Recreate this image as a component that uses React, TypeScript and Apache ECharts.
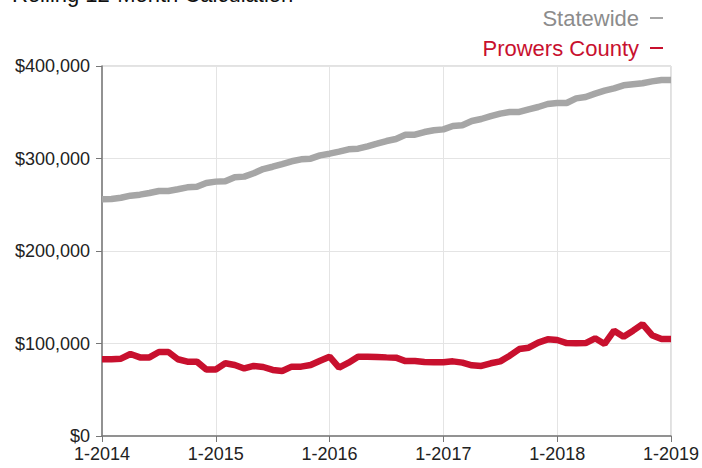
import React, { useEffect, useRef } from "react";
import * as echarts from "echarts";

const years = [2014, 2015, 2016, 2017, 2018];
const months = [1, 2, 3, 4, 5, 6, 7, 8, 9, 10, 11, 12];
const categories: string[] = [];
years.forEach((y) => months.forEach((m) => categories.push(`${m}-${y}`)));
categories.push("1-2019");

const statewide = [
  255900, 256200, 257600, 259800, 260900, 262700, 264900, 264900, 266700, 268800, 269500, 273500,
  275000, 275300, 279700, 280400, 284000, 288600, 291100, 294000, 297000, 299100, 299800, 303400,
  305200, 307400, 309900, 310600, 313200, 316000, 318900, 321100, 325700, 325700, 328600, 330500,
  331500, 335100, 335900, 340500, 342700, 345900, 348500, 350300, 350300, 353200, 355700, 358900,
  360000, 360000, 365000, 366500, 370100, 373300, 375900, 379100, 380200, 381300, 383400, 384900,
  384900,
];

const prowers = [
  83000, 83000, 83600, 88600, 85000, 85000, 90800, 90800, 83000, 80400, 80400, 72000,
  72000, 78600, 76800, 73000, 75700, 74600, 71400, 70300, 75000, 75000, 76800, 81400,
  85700, 74000, 79300, 85700, 85700, 85400, 85000, 84700, 81000, 81000, 80000, 79700,
  79700, 80700, 79300, 76400, 75700, 78600, 80700, 86800, 94000, 95500, 101000, 104500,
  103800, 100500, 100200, 100500, 105600, 99500, 113900, 107400, 113900, 121000, 109000, 104900,
  104900,
];

const seriesNames = ["Statewide", "Prowers County"];
const title = "Rolling 12-Month Calculation";
const yTicks = [0, 100000, 200000, 300000, 400000];

const GRAY = "#a6a6a6";
const RED = "#c8102e";
const FONT = "'Liberation Sans', Arial, Helvetica, sans-serif";

export default function App() {
  const ref = useRef<HTMLDivElement>(null);
  useEffect(() => {
    if (!ref.current) return;
    const chart = echarts.init(ref.current, undefined, { renderer: "svg" });
    chart.setOption({
      animation: false,
      textStyle: { fontFamily: FONT },
      graphic: [
        {
          type: "text",
          left: 12,
          top: -17,
          style: { text: title, fontSize: 22, fill: "#111", fontFamily: FONT },
        },
      ],
      legend: {
        orient: "vertical",
        right: 34,
        top: 2,
        align: "right",
        icon: "rect",
        itemWidth: 13,
        itemHeight: 2,
        itemGap: 8,
        data: [
          { name: seriesNames[0], textStyle: { color: "#8c8c8c" } },
          { name: seriesNames[1], textStyle: { color: RED } },
        ],
        textStyle: { fontSize: 22, fontFamily: FONT, padding: [0, 6, 0, 0] },
      },
      grid: {
        left: 102,
        right: 31,
        top: 66,
        bottom: 32,
        show: true,
        borderColor: "#c4c4c4",
        borderWidth: 1,
      },
      xAxis: {
        type: "category",
        data: categories,
        boundaryGap: false,
        axisLine: { lineStyle: { color: "#777", width: 1.5 } },
        axisTick: { interval: 11, length: 6, lineStyle: { color: "#777" } },
        axisLabel: { interval: 11, fontSize: 18, color: "#222", margin: 9, fontFamily: FONT },
        splitLine: { show: true, interval: 11, lineStyle: { color: "#e4e4e4" } },
      },
      yAxis: {
        type: "value",
        min: yTicks[0],
        max: yTicks[yTicks.length - 1],
        interval: 100000,
        axisLine: { show: true, lineStyle: { color: "#777", width: 1.5 } },
        axisTick: { show: true, length: 6, lineStyle: { color: "#777" } },
        axisLabel: {
          fontSize: 18,
          color: "#222",
          margin: 12,
          fontFamily: FONT,
          formatter: (v: number) => "$" + v.toLocaleString("en-US"),
        },
        splitLine: { lineStyle: { color: "#e4e4e4" } },
      },
      series: [
        {
          name: seriesNames[0],
          type: "line",
          data: statewide,
          showSymbol: false,
          symbol: "none",
          color: GRAY,
          lineStyle: { width: 6.5, color: GRAY },
        },
        {
          name: seriesNames[1],
          type: "line",
          data: prowers,
          showSymbol: false,
          symbol: "none",
          color: RED,
          lineStyle: { width: 6.5, color: RED },
        },
      ],
    });
    return () => chart.dispose();
  }, []);
  return <div ref={ref} style={{ width: 702, height: 468, position: "absolute", left: 0, top: 0 }} />;
}
